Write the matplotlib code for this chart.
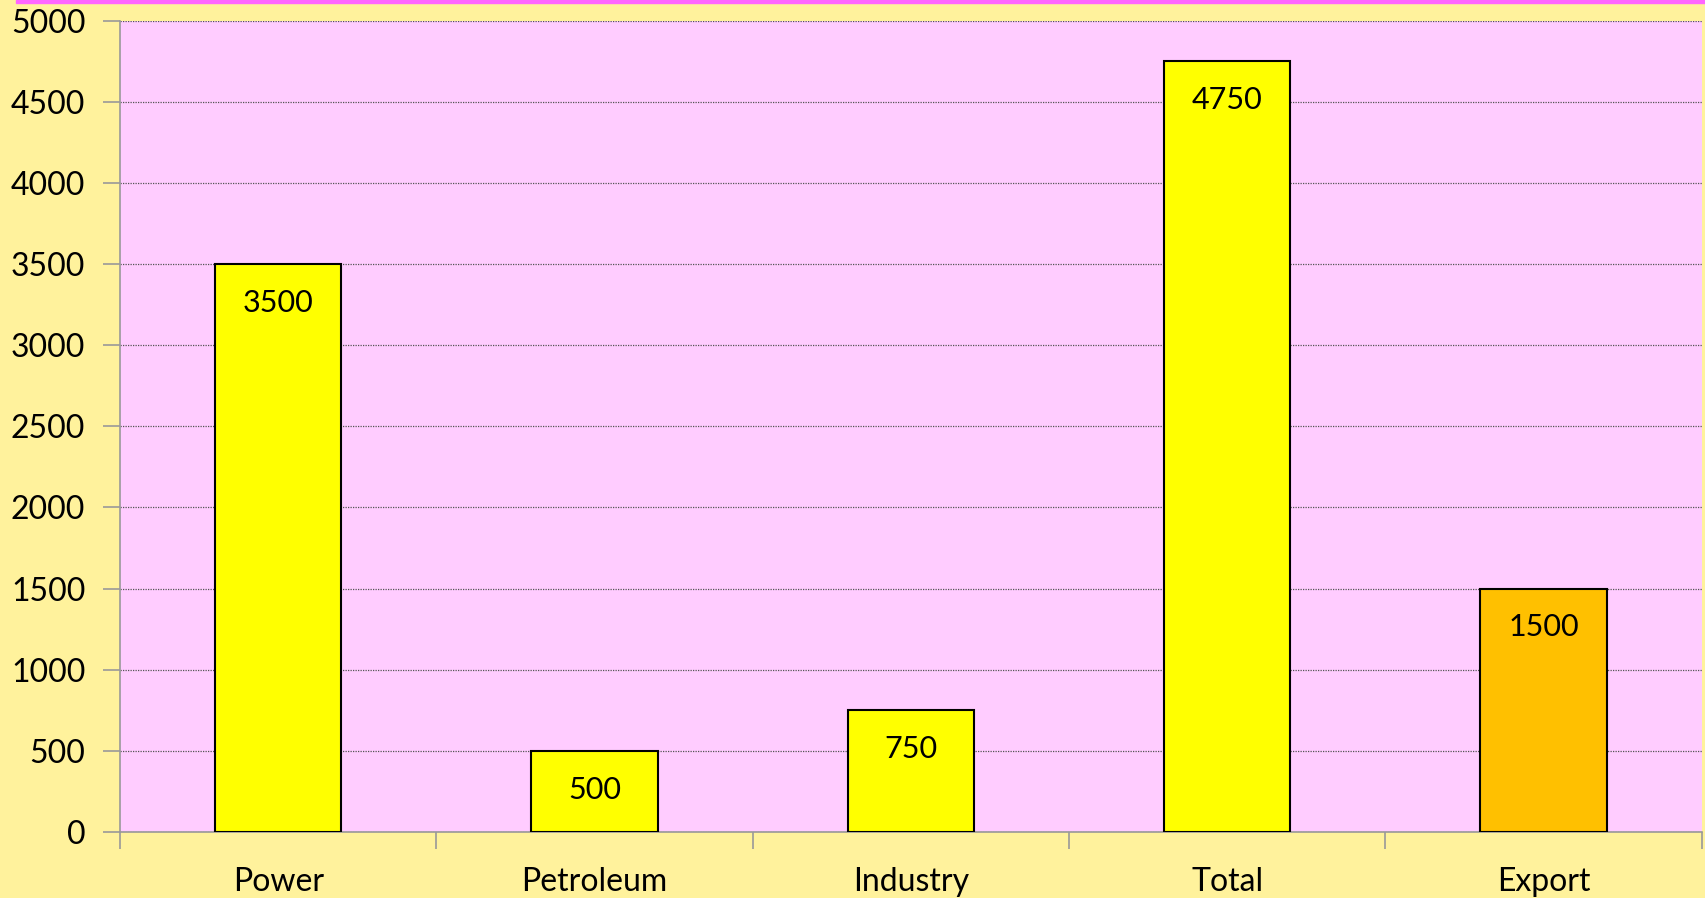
import matplotlib.pyplot as plt
from matplotlib.patches import Rectangle

categories = ['Power', 'Petroleum', 'Industry', 'Total', 'Export']
values = [3500, 500, 750, 4750, 1500]
bar_colors = ['#FFFF00', '#FFFF00', '#FFFF00', '#FFFF00', '#FFC000']

plt.rcParams['font.family'] = ['Lato', 'DejaVu Sans']

fig = plt.figure(figsize=(17.05, 8.98), dpi=100, facecolor='#FFF29C')
ax = fig.add_axes([0.0704, 0.0735, 0.9276, 0.9035])
ax.set_facecolor('#FFCCFF')

# Top magenta strip
fig.patches.append(Rectangle((16 / 1705, 895 / 898), 1, 3 / 898,
                             transform=fig.transFigure, color='#FF66FF',
                             zorder=5))

x = range(len(categories))
bars = ax.bar(x, values, width=0.4, color=bar_colors, edgecolor='black',
              linewidth=1.5, zorder=3)

for xi, v in zip(x, values):
    ax.annotate(f'{v}', (xi, v), xytext=(0, -28), textcoords='offset points',
                ha='center', va='center', fontsize=22, color='black', zorder=4)

ax.set_xlim(-0.5, len(categories) - 0.5)
ax.set_ylim(0, 5000)
ax.set_yticks(range(0, 5001, 500))
ax.yaxis.grid(True, linestyle=(0, (1, 1)), color='#555555', linewidth=0.9)
ax.set_axisbelow(True)

# x ticks at category boundaries, labels centered
ax.set_xticks([i - 0.5 for i in range(len(categories) + 1)])
ax.set_xticklabels([])
ax.set_xticks(list(x), minor=True)
ax.set_xticklabels(categories, minor=True, fontsize=23)
ax.tick_params(axis='x', which='major', direction='out', length=12,
               color='#999999', width=1.2)
ax.tick_params(axis='x', which='minor', length=0, pad=25)
ax.tick_params(axis='y', direction='out', length=12, color='#999999',
               width=1.2, labelsize=23, pad=13)

for side in ['top', 'right']:
    ax.spines[side].set_visible(False)
for side in ['left', 'bottom']:
    ax.spines[side].set_color('#999999')
    ax.spines[side].set_linewidth(1.2)

fig.savefig('out.png', dpi=100, facecolor=fig.get_facecolor())
